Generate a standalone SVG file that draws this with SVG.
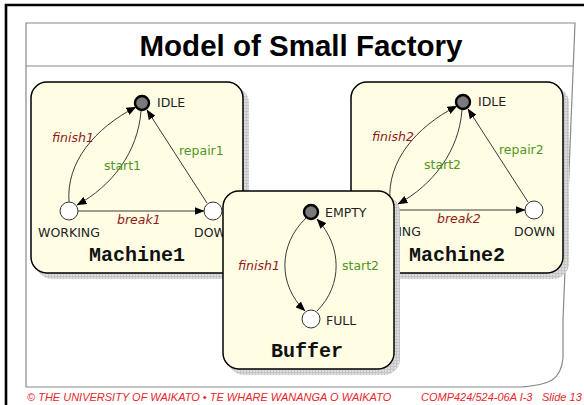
<svg xmlns="http://www.w3.org/2000/svg" width="584" height="405" viewBox="0 0 584 405">
  <style>
    .frame { fill: none; stroke: #8a8a8a; stroke-width: 1.2; }
    .title { font-family: "Liberation Sans", Arial, sans-serif; font-weight: bold; font-size: 29.5px; fill: #000; }
    .box { fill: #fffde3; stroke: #000; stroke-width: 1.5; }
    .shadow { fill: url(#grid); }
    .boxname { font-family: "Liberation Mono", "Courier New", monospace; font-weight: bold; font-size: 20px; fill: #111; }
    .state { fill: #fff; stroke: #333; stroke-width: 1; }
    .init { fill: #7a7a7a; stroke: #000; stroke-width: 2.4; }
    .sname { font-family: "DejaVu Sans", Verdana, sans-serif; font-size: 12.5px; fill: #222; }
    .edge { fill: none; stroke: #3a3a3a; stroke-width: 1; marker-end: url(#arrow); }
    .out { font-family: "DejaVu Sans", Verdana, sans-serif; font-style: italic; font-size: 12.5px; fill: #8e1b1b; }
    .in { font-family: "DejaVu Sans", Verdana, sans-serif; font-size: 12.5px; fill: #4f9622; }
    .foot { font-family: "Liberation Sans", Arial, sans-serif; font-style: italic; font-size: 11px; fill: #e8262a; }
  </style>
  <defs>
    <pattern id="grid" width="3" height="3" patternUnits="userSpaceOnUse">
      <rect width="3" height="3" fill="#dedede"/>
      <path d="M0,0.5 H3 M0.5,0 V3" stroke="#c4c4c4" stroke-width="1"/>
    </pattern>
    <marker id="arrow" viewBox="0 0 10 8" refX="9.5" refY="4" markerWidth="10" markerHeight="8" markerUnits="userSpaceOnUse" orient="auto">
      <path d="M0,0 L10,4 L0,8 z" fill="#000"/>
    </marker>
  </defs>

  <rect width="584" height="405" fill="#fff"/>

  <!-- slide frame -->
  <path d="M6,405 V5 H584" fill="none" stroke="#000" stroke-width="2.6"/>
  <path class="frame" d="M26,23 H575 L563,320 V358 C561,380 550,385 520,387 H26 Z"/>
  <line class="frame" x1="26" y1="66" x2="573" y2="66"/>
  <text class="title" x="301" y="56" text-anchor="middle">Model of Small Factory</text>

  <!-- Machine1 -->
  <g id="machine1">
    <rect class="shadow" x="36" y="87" width="213" height="192" rx="16"/>
    <rect class="box" x="31" y="82" width="212" height="191" rx="16"/>
    <text class="boxname" x="137" y="261" text-anchor="middle">Machine1</text>
    <g id="m1-idle">
      <circle class="init" cx="142" cy="103" r="7"/>
      <text class="sname" x="157" y="107">IDLE</text>
    </g>
    <g id="m1-working">
      <circle class="state" cx="69" cy="211" r="9"/>
      <text class="sname" x="69" y="237" text-anchor="middle">WORKING</text>
    </g>
    <g id="m1-down">
      <circle class="state" cx="213" cy="211" r="9"/>
      <text class="sname" x="194" y="237">DOWN</text>
    </g>
    <g id="m1-edges">
      <path class="edge" d="M69,202 C66,162 95,128 136,107"/>
      <path class="edge" d="M141,111 C138,152 112,186 77,205"/>
      <path class="edge" d="M207,203 L147,110"/>
      <path class="edge" d="M78,211 L204,211"/>
      <text class="out" x="52" y="142">finish1</text>
      <text class="in" x="104" y="170">start1</text>
      <text class="in" x="179" y="155">repair1</text>
      <text class="out" x="117" y="224">break1</text>
    </g>
  </g>

  <!-- Machine2 -->
  <g id="machine2">
    <rect class="shadow" x="356" y="87" width="213" height="192" rx="16"/>
    <rect class="box" x="351" y="82" width="212" height="191" rx="16"/>
    <text class="boxname" x="457" y="261" text-anchor="middle">Machine2</text>
    <g id="m2-idle">
      <circle class="init" cx="463" cy="102" r="7"/>
      <text class="sname" x="478" y="106">IDLE</text>
    </g>
    <g id="m2-working">
      <circle class="state" cx="390" cy="210" r="9"/>
      <text class="sname" x="390" y="236" text-anchor="middle">WORKING</text>
    </g>
    <g id="m2-down">
      <circle class="state" cx="534" cy="210" r="9"/>
      <text class="sname" x="514" y="236">DOWN</text>
    </g>
    <g id="m2-edges">
      <path class="edge" d="M390,201 C387,161 416,127 457,106"/>
      <path class="edge" d="M462,110 C459,151 433,185 398,204"/>
      <path class="edge" d="M528,202 L468,109"/>
      <path class="edge" d="M399,210 L525,210"/>
      <text class="out" x="372" y="141">finish2</text>
      <text class="in" x="424" y="169">start2</text>
      <text class="in" x="499" y="154">repair2</text>
      <text class="out" x="437" y="223">break2</text>
    </g>
  </g>

  <!-- Buffer -->
  <g id="buffer">
    <rect class="shadow" x="228" y="196" width="172" height="179" rx="16"/>
    <rect class="box" x="223" y="191" width="171" height="178" rx="16"/>
    <text class="boxname" x="307" y="357" text-anchor="middle">Buffer</text>
    <g id="b-empty">
      <circle class="init" cx="311" cy="212" r="7"/>
      <text class="sname" x="325" y="217">EMPTY</text>
    </g>
    <g id="b-full">
      <circle class="state" cx="311" cy="319" r="9"/>
      <text class="sname" x="326" y="325">FULL</text>
    </g>
    <g id="b-edges">
      <path class="edge" d="M306,218 C278,245 278,285 305,311"/>
      <path class="edge" d="M317,311 C343,285 342,246 317,219"/>
      <text class="out" x="238" y="270">finish1</text>
      <text class="in" x="342" y="270">start2</text>
    </g>
  </g>

  <!-- footer -->
  <text class="foot" x="27" y="401">© THE UNIVERSITY OF WAIKATO  •  TE WHARE WANANGA O WAIKATO</text>
  <text class="foot" x="421" y="401">COMP424/524-06A I-3</text>
  <text class="foot" x="542" y="401">Slide 13</text>
</svg>
